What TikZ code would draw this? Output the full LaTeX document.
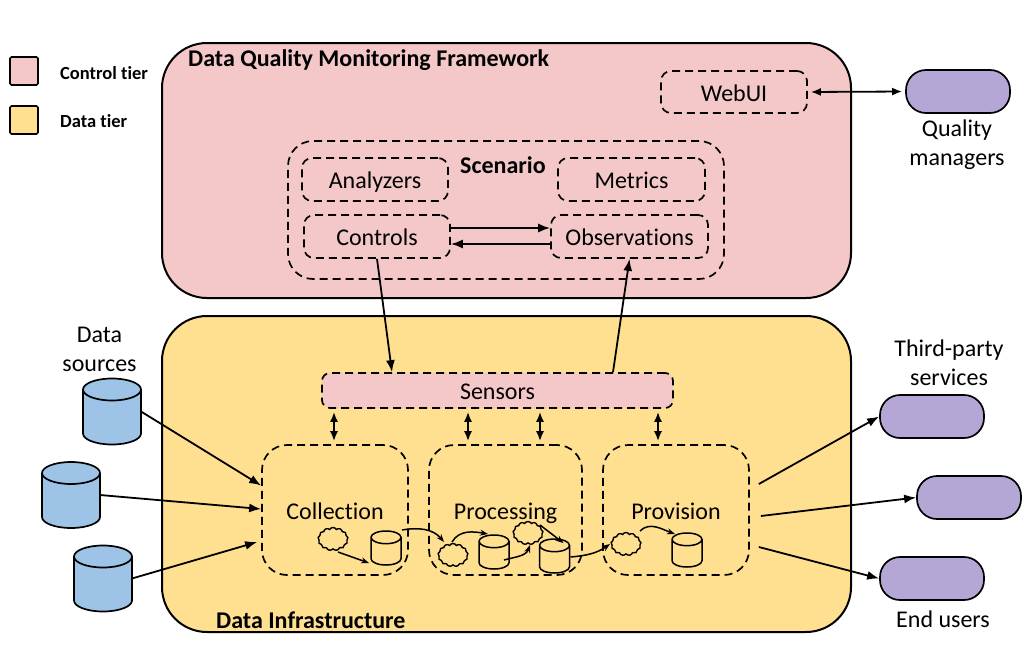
\documentclass[tikz,border=0pt]{standalone}
\usepackage{fontspec}
\setmainfont{Carlito}[Ligatures=NoCommon]
\usetikzlibrary{arrows.meta,shapes.geometric,shapes.symbols}
\definecolor{controlpink}{RGB}{244,200,200}
\definecolor{datayellow}{RGB}{255,224,145}
\definecolor{dbblue}{RGB}{157,195,230}
\definecolor{userpurple}{RGB}{180,167,214}
\tikzset{
  tier/.style={draw=black, line width=2pt, rounded corners=45pt, inner sep=0pt},
  legendbox/.style={draw=black, line width=1.7pt, rounded corners=1.5pt, minimum size=28pt, inner sep=0pt},
  dashbox/.style={draw=black, line width=1.7pt, dash pattern=on 8pt off 5pt, rounded corners=10pt, inner sep=0pt,
    font=\fontsize{24}{28}\selectfont, text height=19pt, text depth=1pt},
  stagebox/.style={dashbox, rounded corners=25pt, minimum width=146pt, minimum height=130pt},
  actor/.style={draw=black, line width=1.7pt, fill=userpurple, rounded corners=20pt, minimum width=104pt, minimum height=43pt, inner sep=0pt},
  source/.style={cylinder, anchor=shape center, shape border rotate=90, aspect=3.3, draw=black, line width=1.7pt, fill=dbblue, minimum width=58pt, minimum height=66pt},
  store/.style={cylinder, anchor=shape center, shape border rotate=90, aspect=1.9, draw=black, line width=1.5pt, minimum width=30pt, minimum height=34pt},
  puff/.style={cloud, cloud puffs=13, cloud puff arc=120, aspect=1.3, draw=black, line width=1.4pt, minimum width=30pt, minimum height=23pt, inner sep=0pt},
  label/.style={font=\fontsize{24}{29}\selectfont, align=center, inner sep=0pt},
  boldlabel/.style={font=\fontsize{24}{28}\selectfont\bfseries, inner sep=0pt},
  flow/.style={-{Latex[length=12pt,width=9pt]}, line width=1.8pt},
  both/.style={{Latex[length=10pt,width=8pt]}-{Latex[length=10pt,width=8pt]}, line width=1.8pt, shorten <=3pt, shorten >=3pt},
  small/.style={-{Stealth[length=8pt,width=6pt]}, line width=1.5pt}
}
\begin{document}
\begin{tikzpicture}[x=1pt,y=-1pt]
\useasboundingbox (0,0) rectangle (1035,645);
% tiers
\node[tier, fill=controlpink, minimum width=689pt, minimum height=255pt] (framework) at (506.5,170.5) {};
\node[tier, fill=datayellow, minimum width=689pt, minimum height=316pt] (infra) at (506.5,474) {};
\node[boldlabel, anchor=west] (frameworktitle) at (188,60) {Data Quality Monitoring Framework};
\node[boldlabel, anchor=west] (infratitle) at (216,620) {Data Infrastructure};
% legend
\node[legendbox, fill=controlpink] (legendcontrol) at (24,71) {};
\node[legendbox, fill=datayellow] (legenddata) at (24,120) {};
\node[anchor=west, inner sep=0pt, font=\fontsize{18.5}{22}\selectfont\bfseries] (controltext) at (60,73) {Control tier};
\node[anchor=west, inner sep=0pt, font=\fontsize{18.5}{22}\selectfont\bfseries] (datatext) at (60,121) {Data tier};
% control tier
\node[dashbox, minimum width=146pt, minimum height=42pt] (webui) at (734,92) {WebUI};
\node[dashbox, rounded corners=25pt, minimum width=436pt, minimum height=138pt] (scenario) at (506,210) {};
\node[boldlabel] (scenariotitle) at (503,165) {Scenario};
\node[dashbox, minimum width=146pt, minimum height=43pt] (analyzers) at (375,179.5) {Analyzers};
\node[dashbox, minimum width=147pt, minimum height=43pt] (metrics) at (631.5,179.5) {Metrics};
\node[dashbox, minimum width=146pt, minimum height=43pt] (controls) at (377,236.5) {Controls};
\node[dashbox, minimum width=157pt, minimum height=43pt] (observations) at (629.5,236.5) {Observations};
% data tier
\node[dashbox, fill=controlpink, rounded corners=8pt, minimum width=351pt, minimum height=35pt] (sensors) at (497.5,390.5) {Sensors};
\node[stagebox] (collection) at (335,510) {Collection};
\node[stagebox, minimum width=153pt] (processing) at (505.5,510) {Processing};
\node[stagebox] (provision) at (676,510) {Provision};
% sources
\node[label] (sourcetext) at (99.5,349.5) {Data\\sources};
\node[source] (srcA) at (112,411.5) {};
\node[source] (srcB) at (71,495) {};
\node[source] (srcC) at (103,578.5) {};
% actors
\node[actor] (quality) at (958,91.5) {};
\node[label] (qualitytext) at (957,145) {Quality\\managers};
\node[actor] (thirdparty) at (932,416.5) {};
\node[label] (thirdtext) at (949,362.5) {Third-party\\services};
\node[actor] (service) at (969,497.5) {};
\node[actor] (enduser) at (932,578.5) {};
\node[label] (endtext) at (943,619) {End users};
% inner stores and clouds
\node[puff] (cloudA) at (333,539) {};
\node[store] (storeA) at (386,548) {};
\node[puff] (cloudB) at (453,555) {};
\node[store] (storeB) at (494,552) {};
\node[puff] (cloudC) at (528,533) {};
\node[store] (storeC) at (554.5,556) {};
\node[puff] (cloudD) at (626,544) {};
\node[store] (storeD) at (687,550) {};
% connectors
\draw[both] (webui.east) -- (quality.west);
\draw[flow] ([yshift=8.5pt]controls.east) -- ([yshift=8.5pt]observations.west);
\draw[flow] ([yshift=-7.5pt]observations.west) -- ([yshift=-7.5pt]controls.east);
\draw[flow] (controls.south) -- ([xshift=-105.5pt]sensors.north);
\draw[flow] ([xshift=115.5pt]sensors.north) -- (observations.south);
\draw[both] ([xshift=-163.5pt]sensors.south) -- ([xshift=-1pt]collection.north);
\draw[both] ([xshift=-29.5pt]sensors.south) -- ([xshift=-37.5pt]processing.north);
\draw[both] ([xshift=42.5pt]sensors.south) -- ([xshift=34.5pt]processing.north);
\draw[both] ([xshift=160.5pt]sensors.south) -- ([xshift=-18pt]provision.north);
\draw[flow] ([xshift=29pt]srcA.shape center) -- ([yshift=24.5pt]collection.west);
\draw[flow] ([xshift=29pt]srcB.shape center) -- ([yshift=1pt]collection.west);
\draw[flow] ([xshift=29pt]srcC.shape center) -- ([xshift=-4pt,yshift=-32pt]collection.west);
\draw[flow] ([xshift=9pt,yshift=26pt]provision.east) -- (thirdparty.west);
\draw[flow] ([xshift=11pt,yshift=-6pt]provision.east) -- (service.west);
\draw[flow] ([xshift=9pt,yshift=-37pt]provision.east) -- (enduser.west);
\draw[small] ([xshift=5pt,yshift=-13pt]cloudA.center) -- ([xshift=-17pt,yshift=-15pt]storeA.shape center);
\draw[small] ([xshift=16pt,yshift=18pt]storeA.shape center) to[out=10,in=130] ([xshift=-9pt,yshift=13pt]cloudB.center);
\draw[small] ([xshift=-1pt,yshift=13pt]cloudB.center) to[out=60,in=170] ([xshift=-6pt,yshift=18pt]storeB.shape center);
\draw[small] ([xshift=10pt,yshift=-8pt]storeB.shape center) to[out=15,in=250] ([xshift=2pt,yshift=-12pt]cloudC.center);
\draw[small] ([xshift=12pt,yshift=8pt]cloudC.center) -- ([xshift=9pt,yshift=13pt]storeC.shape center);
\draw[small] ([xshift=16pt,yshift=-1pt]storeC.shape center) to[out=5,in=215] ([xshift=-16pt,yshift=0pt]cloudD.center);
\draw[small] ([xshift=14pt,yshift=13pt]cloudD.center) to[out=45,in=160] ([xshift=-12pt,yshift=16pt]storeD.shape center);
\end{tikzpicture}
\end{document}
